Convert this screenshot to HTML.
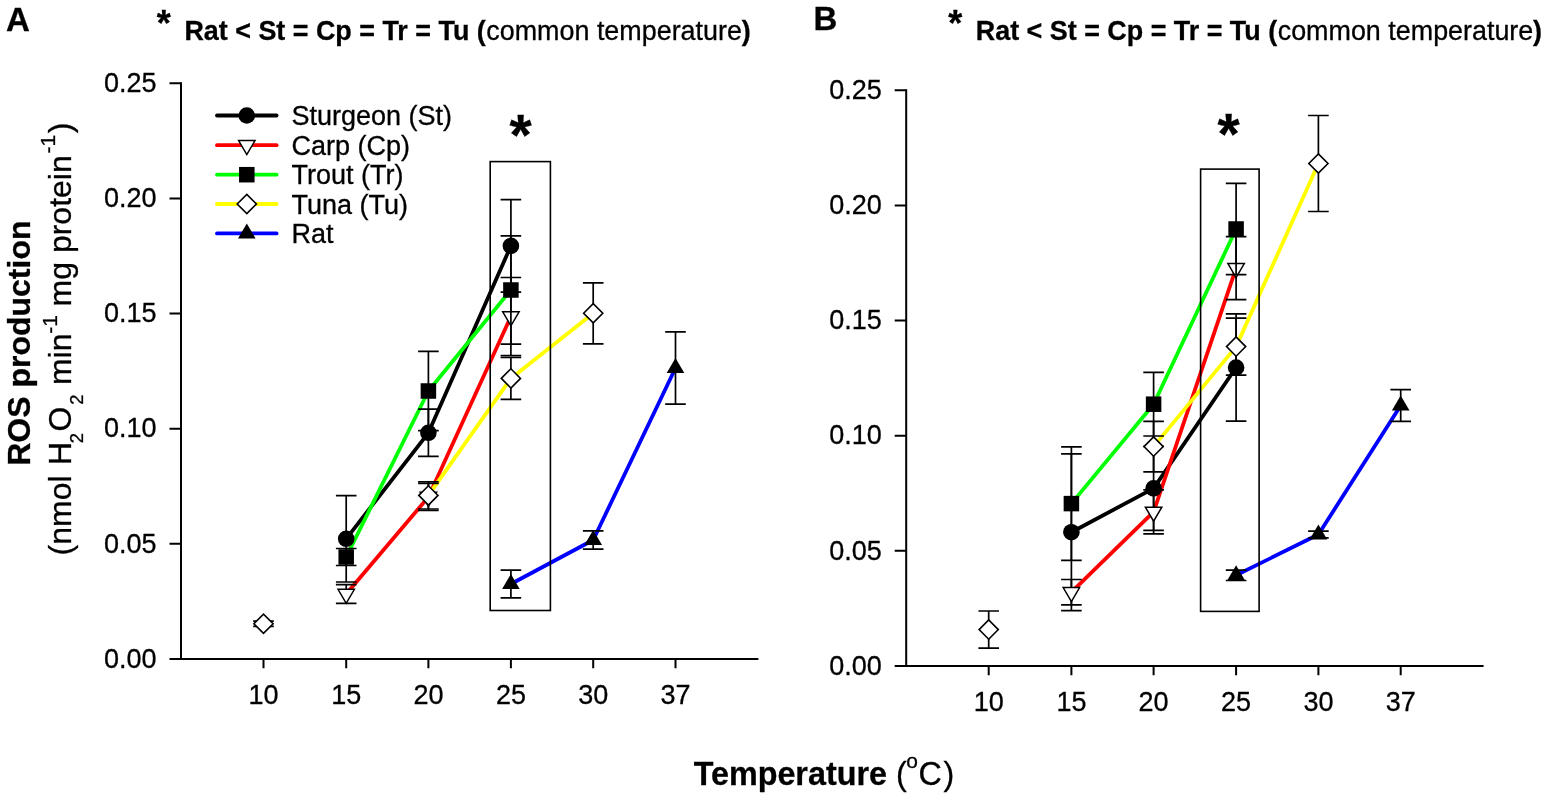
<!DOCTYPE html>
<html><head><meta charset="utf-8"><title>ROS production vs temperature</title>
<style>
html,body{margin:0;padding:0;background:#fff;}
svg{display:block;}
text{font-family:"Liberation Sans", Arial, sans-serif;fill:#000;stroke:#000;stroke-width:0.3px;}
</style></head>
<body>
<svg width="1547" height="797" viewBox="0 0 1547 797">
<rect width="1547" height="797" fill="#fff"/>
<text x="6" y="30.6" font-size="33" font-weight="bold">A</text>
<text x="813.5" y="30.2" font-size="33" font-weight="bold">B</text>
<text x="156.8" y="35.7" font-size="36" font-weight="bold">*</text><text y="40" font-size="26.9"><tspan x="184.42" font-weight="bold">Rat &lt; St = Cp = Tr = Tu (</tspan><tspan x="486.32">common temperature</tspan><tspan x="741.7" font-weight="bold">)</tspan></text>
<text x="948.2" y="35.7" font-size="36" font-weight="bold">*</text><text y="40" font-size="26.9"><tspan x="975.82" font-weight="bold">Rat &lt; St = Cp = Tr = Tu (</tspan><tspan x="1277.72">common temperature</tspan><tspan x="1533.1" font-weight="bold">)</tspan></text>
<text transform="translate(30.2 465.8) rotate(-90)" font-size="32" font-weight="bold">ROS production</text><text transform="translate(71.3 560) rotate(-90)" font-size="32"><tspan x="4.58" y="0">(nmol</tspan><tspan x="94.94" y="0">H</tspan><tspan x="116.77" y="11.3" font-size="18.5">2</tspan><tspan x="128.4" y="0">O</tspan><tspan x="155.38" y="11.3" font-size="18.5">2</tspan><tspan x="174.96" y="0">min</tspan><tspan x="226.16" y="-14.6" font-size="21">-1</tspan><tspan x="253.56" y="0">mg protein</tspan><tspan x="406.56" y="-16" font-size="21">-1</tspan><tspan x="426.78" y="0">)</tspan></text>
<text y="784.6" font-size="32.3"><tspan x="693.68" font-weight="bold">Temperature</tspan><tspan x="896.06">(</tspan><tspan x="906.26" y="768.4" font-size="21">o</tspan><tspan x="918.49" y="784.6">C</tspan><tspan x="943.38">)</tspan></text>
<path d="M181 82.3V659M169.5 659H758.4" stroke="#000" stroke-width="2" fill="none"/>
<path d="M169.5 543.86H181M169.5 428.72H181M169.5 313.58H181M169.5 198.44H181M169.5 83.3H181M263.5 659V668.3M346.2 659V668.3M428.4 659V668.3M510.9 659V668.3M593.2 659V668.3M675.5 659V668.3" stroke="#000" stroke-width="2" fill="none"/>
<text x="156.6" y="667.7" text-anchor="end" font-size="27">0.00</text>
<text x="156.6" y="552.56" text-anchor="end" font-size="27">0.05</text>
<text x="156.6" y="437.42" text-anchor="end" font-size="27">0.10</text>
<text x="156.6" y="322.28" text-anchor="end" font-size="27">0.15</text>
<text x="156.6" y="207.14" text-anchor="end" font-size="27">0.20</text>
<text x="156.6" y="92" text-anchor="end" font-size="27">0.25</text>
<text x="263.5" y="704" text-anchor="middle" font-size="27">10</text>
<text x="346.2" y="704" text-anchor="middle" font-size="27">15</text>
<text x="428.4" y="704" text-anchor="middle" font-size="27">20</text>
<text x="510.9" y="704" text-anchor="middle" font-size="27">25</text>
<text x="593.2" y="704" text-anchor="middle" font-size="27">30</text>
<text x="675.5" y="704" text-anchor="middle" font-size="27">37</text>
<path d="M346.2 538.8 L428.4 432.8 L510.9 245.9" stroke="#000000" stroke-width="3.8" fill="none" stroke-linejoin="round"/>
<path d="M346.2 594 L428.4 497 L510.9 316.5" stroke="#ff0000" stroke-width="3.8" fill="none" stroke-linejoin="round"/>
<path d="M346.2 557 L428.4 391 L510.9 290" stroke="#00ff00" stroke-width="3.8" fill="none" stroke-linejoin="round"/>
<path d="M428.4 495.4 L510.9 378.4 L593.2 313.3" stroke="#ffff00" stroke-width="3.8" fill="none" stroke-linejoin="round"/>
<path d="M510.9 584 L593.2 540 L675.5 368" stroke="#0000ff" stroke-width="3.8" fill="none" stroke-linejoin="round"/>
<path d="M346.2 495.6V582M335.9 495.6H356.5M335.9 582H356.5" stroke="#000" stroke-width="1.7" fill="none"/>
<path d="M428.4 409.2V456.4M418.1 409.2H438.7M418.1 456.4H438.7" stroke="#000" stroke-width="1.7" fill="none"/>
<path d="M510.9 199.6V292.2M500.6 199.6H521.2M500.6 292.2H521.2" stroke="#000" stroke-width="1.7" fill="none"/>
<circle cx="346.2" cy="538.8" r="8.3" fill="#000"/>
<circle cx="428.4" cy="432.8" r="8.3" fill="#000"/>
<circle cx="510.9" cy="245.9" r="8.3" fill="#000"/>
<path d="M346.2 584.6V603.4M335.9 584.6H356.5M335.9 603.4H356.5" stroke="#000" stroke-width="1.7" fill="none"/>
<path d="M428.4 483.5V510.5M418.1 483.5H438.7M418.1 510.5H438.7" stroke="#000" stroke-width="1.7" fill="none"/>
<path d="M510.9 277.5V355.5M500.6 277.5H521.2M500.6 355.5H521.2" stroke="#000" stroke-width="1.7" fill="none"/>
<polygon points="338,589.33 354.4,589.33 346.2,603.33" fill="#fff" stroke="#000" stroke-width="1.5"/>
<polygon points="420.2,492.33 436.6,492.33 428.4,506.33" fill="#fff" stroke="#000" stroke-width="1.5"/>
<polygon points="502.7,311.83 519.1,311.83 510.9,325.83" fill="#fff" stroke="#000" stroke-width="1.5"/>
<path d="M346.2 548.5V565.5M335.9 548.5H356.5M335.9 565.5H356.5" stroke="#000" stroke-width="1.7" fill="none"/>
<path d="M428.4 351.3V430.7M418.1 351.3H438.7M418.1 430.7H438.7" stroke="#000" stroke-width="1.7" fill="none"/>
<path d="M510.9 235.9V344.1M500.6 235.9H521.2M500.6 344.1H521.2" stroke="#000" stroke-width="1.7" fill="none"/>
<rect x="338.45" y="549.25" width="15.5" height="15.5" fill="#000"/>
<rect x="420.65" y="383.25" width="15.5" height="15.5" fill="#000"/>
<rect x="503.15" y="282.25" width="15.5" height="15.5" fill="#000"/>
<path d="M263.5 621.1V626.3M253.2 621.1H273.8M253.2 626.3H273.8" stroke="#000" stroke-width="1.7" fill="none"/>
<path d="M428.4 481.8V509M418.1 481.8H438.7M418.1 509H438.7" stroke="#000" stroke-width="1.7" fill="none"/>
<path d="M510.9 357.4V399.4M500.6 357.4H521.2M500.6 399.4H521.2" stroke="#000" stroke-width="1.7" fill="none"/>
<path d="M593.2 282.8V343.8M582.9 282.8H603.5M582.9 343.8H603.5" stroke="#000" stroke-width="1.7" fill="none"/>
<polygon points="253.9,623.7 263.5,614.1 273.1,623.7 263.5,633.3" fill="#fff" stroke="#000" stroke-width="1.6" stroke-linejoin="miter"/>
<polygon points="418.8,495.4 428.4,485.8 438,495.4 428.4,505" fill="#fff" stroke="#000" stroke-width="1.6" stroke-linejoin="miter"/>
<polygon points="501.3,378.4 510.9,368.8 520.5,378.4 510.9,388" fill="#fff" stroke="#000" stroke-width="1.6" stroke-linejoin="miter"/>
<polygon points="583.6,313.3 593.2,303.7 602.8,313.3 593.2,322.9" fill="#fff" stroke="#000" stroke-width="1.6" stroke-linejoin="miter"/>
<path d="M510.9 570.1V597.9M500.6 570.1H521.2M500.6 597.9H521.2" stroke="#000" stroke-width="1.7" fill="none"/>
<path d="M593.2 530.9V549.1M582.9 530.9H603.5M582.9 549.1H603.5" stroke="#000" stroke-width="1.7" fill="none"/>
<path d="M675.5 331.8V404.2M665.2 331.8H685.8M665.2 404.2H685.8" stroke="#000" stroke-width="1.7" fill="none"/>
<polygon points="502.1,589 519.7,589 510.9,574" fill="#000"/>
<polygon points="584.4,545 602,545 593.2,530" fill="#000"/>
<polygon points="666.7,373 684.3,373 675.5,358" fill="#000"/>
<rect x="490.2" y="161.6" width="60.2" height="448.9" fill="none" stroke="#000" stroke-width="1.6"/>
<text x="520.5" y="154.6" text-anchor="middle" font-size="57" font-weight="bold">*</text>
<path d="M906.2 89.3V666M894.7 666H1483.6" stroke="#000" stroke-width="2" fill="none"/>
<path d="M894.7 550.86H906.2M894.7 435.72H906.2M894.7 320.58H906.2M894.7 205.44H906.2M894.7 90.3H906.2M988.7 666V675.3M1071.4 666V675.3M1153.6 666V675.3M1236.1 666V675.3M1318.4 666V675.3M1400.7 666V675.3" stroke="#000" stroke-width="2" fill="none"/>
<text x="881.8" y="674.7" text-anchor="end" font-size="27">0.00</text>
<text x="881.8" y="559.56" text-anchor="end" font-size="27">0.05</text>
<text x="881.8" y="444.42" text-anchor="end" font-size="27">0.10</text>
<text x="881.8" y="329.28" text-anchor="end" font-size="27">0.15</text>
<text x="881.8" y="214.14" text-anchor="end" font-size="27">0.20</text>
<text x="881.8" y="99" text-anchor="end" font-size="27">0.25</text>
<text x="988.7" y="711" text-anchor="middle" font-size="27">10</text>
<text x="1071.4" y="711" text-anchor="middle" font-size="27">15</text>
<text x="1153.6" y="711" text-anchor="middle" font-size="27">20</text>
<text x="1236.1" y="711" text-anchor="middle" font-size="27">25</text>
<text x="1318.4" y="711" text-anchor="middle" font-size="27">30</text>
<text x="1400.7" y="711" text-anchor="middle" font-size="27">37</text>
<path d="M1071.4 532.2 L1153.6 488.4 L1236.1 367.5" stroke="#000000" stroke-width="3.8" fill="none" stroke-linejoin="round"/>
<path d="M1071.4 592.2 L1153.6 511.9 L1236.1 268.2" stroke="#ff0000" stroke-width="3.8" fill="none" stroke-linejoin="round"/>
<path d="M1071.4 503.6 L1153.6 404.2 L1236.1 229" stroke="#00ff00" stroke-width="3.8" fill="none" stroke-linejoin="round"/>
<path d="M1153.6 446.6 L1236.1 346.6 L1318.4 163.5" stroke="#ffff00" stroke-width="3.8" fill="none" stroke-linejoin="round"/>
<path d="M1236.1 575.3 L1318.4 534.5 L1400.7 405.5" stroke="#0000ff" stroke-width="3.8" fill="none" stroke-linejoin="round"/>
<path d="M1071.4 453.8V610.6M1061.1 453.8H1081.7M1061.1 610.6H1081.7" stroke="#000" stroke-width="1.7" fill="none"/>
<path d="M1153.6 446.4V530.4M1143.3 446.4H1163.9M1143.3 530.4H1163.9" stroke="#000" stroke-width="1.7" fill="none"/>
<path d="M1236.1 313.9V421.1M1225.8 313.9H1246.4M1225.8 421.1H1246.4" stroke="#000" stroke-width="1.7" fill="none"/>
<circle cx="1071.4" cy="532.2" r="8.3" fill="#000"/>
<circle cx="1153.6" cy="488.4" r="8.3" fill="#000"/>
<circle cx="1236.1" cy="367.5" r="8.3" fill="#000"/>
<path d="M1071.4 579.5V604.9M1061.1 579.5H1081.7M1061.1 604.9H1081.7" stroke="#000" stroke-width="1.7" fill="none"/>
<path d="M1153.6 489.9V533.9M1143.3 489.9H1163.9M1143.3 533.9H1163.9" stroke="#000" stroke-width="1.7" fill="none"/>
<path d="M1236.1 236.7V299.7M1225.8 236.7H1246.4M1225.8 299.7H1246.4" stroke="#000" stroke-width="1.7" fill="none"/>
<polygon points="1063.2,587.53 1079.6,587.53 1071.4,601.53" fill="#fff" stroke="#000" stroke-width="1.5"/>
<polygon points="1145.4,507.23 1161.8,507.23 1153.6,521.23" fill="#fff" stroke="#000" stroke-width="1.5"/>
<polygon points="1227.9,263.53 1244.3,263.53 1236.1,277.53" fill="#fff" stroke="#000" stroke-width="1.5"/>
<path d="M1071.4 446.9V560.3M1061.1 446.9H1081.7M1061.1 560.3H1081.7" stroke="#000" stroke-width="1.7" fill="none"/>
<path d="M1153.6 372.4V436M1143.3 372.4H1163.9M1143.3 436H1163.9" stroke="#000" stroke-width="1.7" fill="none"/>
<path d="M1236.1 183.3V274.7M1225.8 183.3H1246.4M1225.8 274.7H1246.4" stroke="#000" stroke-width="1.7" fill="none"/>
<rect x="1063.65" y="495.85" width="15.5" height="15.5" fill="#000"/>
<rect x="1145.85" y="396.45" width="15.5" height="15.5" fill="#000"/>
<rect x="1228.35" y="221.25" width="15.5" height="15.5" fill="#000"/>
<path d="M988.7 611V648.2M978.4 611H999M978.4 648.2H999" stroke="#000" stroke-width="1.7" fill="none"/>
<path d="M1153.6 421.3V471.9M1143.3 421.3H1163.9M1143.3 471.9H1163.9" stroke="#000" stroke-width="1.7" fill="none"/>
<path d="M1236.1 318.1V375.1M1225.8 318.1H1246.4M1225.8 375.1H1246.4" stroke="#000" stroke-width="1.7" fill="none"/>
<path d="M1318.4 115.5V211.5M1308.1 115.5H1328.7M1308.1 211.5H1328.7" stroke="#000" stroke-width="1.7" fill="none"/>
<polygon points="979.1,629.6 988.7,620 998.3,629.6 988.7,639.2" fill="#fff" stroke="#000" stroke-width="1.6" stroke-linejoin="miter"/>
<polygon points="1144,446.6 1153.6,437 1163.2,446.6 1153.6,456.2" fill="#fff" stroke="#000" stroke-width="1.6" stroke-linejoin="miter"/>
<polygon points="1226.5,346.6 1236.1,337 1245.7,346.6 1236.1,356.2" fill="#fff" stroke="#000" stroke-width="1.6" stroke-linejoin="miter"/>
<polygon points="1308.8,163.5 1318.4,153.9 1328,163.5 1318.4,173.1" fill="#fff" stroke="#000" stroke-width="1.6" stroke-linejoin="miter"/>
<path d="M1236.1 570.1V580.5M1225.8 570.1H1246.4M1225.8 580.5H1246.4" stroke="#000" stroke-width="1.7" fill="none"/>
<path d="M1318.4 531.2V537.8M1308.1 531.2H1328.7M1308.1 537.8H1328.7" stroke="#000" stroke-width="1.7" fill="none"/>
<path d="M1400.7 389.6V421.4M1390.4 389.6H1411M1390.4 421.4H1411" stroke="#000" stroke-width="1.7" fill="none"/>
<polygon points="1227.3,580.3 1244.9,580.3 1236.1,565.3" fill="#000"/>
<polygon points="1309.6,539.5 1327.2,539.5 1318.4,524.5" fill="#000"/>
<polygon points="1391.9,410.5 1409.5,410.5 1400.7,395.5" fill="#000"/>
<rect x="1200.6" y="169.1" width="58.5" height="442.3" fill="none" stroke="#000" stroke-width="1.6"/>
<text x="1228.7" y="153.9" text-anchor="middle" font-size="57" font-weight="bold">*</text>
<path d="M217 115.5H276.6" stroke="#000000" stroke-width="3.8" stroke-linecap="round"/>
<circle cx="246.8" cy="115.5" r="8.3" fill="#000"/>
<text x="291.5" y="125" font-size="27">Sturgeon (St)</text>
<path d="M217 145.2H276.6" stroke="#ff0000" stroke-width="3.8" stroke-linecap="round"/>
<polygon points="238.6,140.53 255,140.53 246.8,154.53" fill="#fff" stroke="#000" stroke-width="1.5"/>
<text x="291.5" y="154.7" font-size="27">Carp (Cp)</text>
<path d="M217 174.7H276.6" stroke="#00ff00" stroke-width="3.8" stroke-linecap="round"/>
<rect x="239.05" y="166.95" width="15.5" height="15.5" fill="#000"/>
<text x="291.5" y="184.2" font-size="27">Trout (Tr)</text>
<path d="M217 204H276.6" stroke="#ffff00" stroke-width="3.8" stroke-linecap="round"/>
<polygon points="237.2,204 246.8,194.4 256.4,204 246.8,213.6" fill="#fff" stroke="#000" stroke-width="1.6" stroke-linejoin="miter"/>
<text x="291.5" y="213.5" font-size="27">Tuna (Tu)</text>
<path d="M217 233.4H276.6" stroke="#0000ff" stroke-width="3.8" stroke-linecap="round"/>
<polygon points="238,238.4 255.6,238.4 246.8,223.4" fill="#000"/>
<text x="291.5" y="242.9" font-size="27">Rat</text>
</svg>
</body></html>
